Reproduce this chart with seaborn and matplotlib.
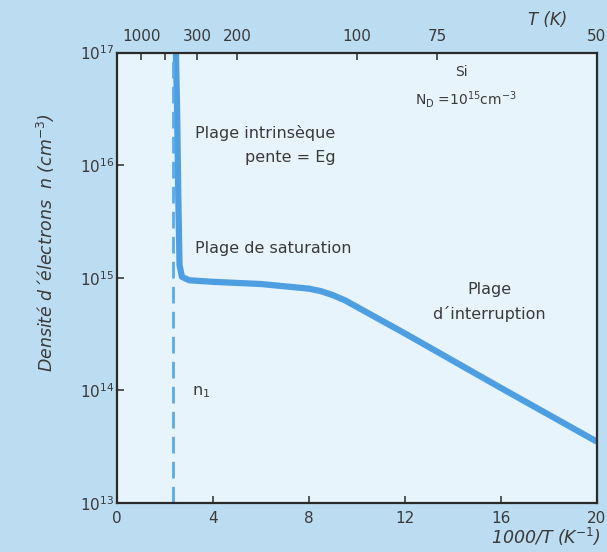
import numpy as np
import pandas as pd
import seaborn as sns
import matplotlib.pyplot as plt
from matplotlib.ticker import FixedLocator, FixedFormatter, LogLocator

# curve n(1000/T)
inv_t = [2.45, 2.5, 2.55, 2.6, 2.7, 3.0, 4.0, 6.0, 8.0, 8.5, 9.0, 9.5, 12.0, 16.0, 20.0]
n_e = [1e17, 3e16, 5e15, 1.3e15, 1.02e15, 9.5e14, 9.2e14, 8.8e14, 8.0e14, 7.6e14, 7.0e14, 6.3e14, 3.2e14, 1.05e14, 3.5e13]

# intrinsic density n1 marker (dashed)
n1_x = 2.33

# top axis: temperatures
t_vals = [1000, 500, 300, 200, 100, 75, 50]
t_labels = ["1000", "", "300", "200", "100", "75", "50"]

df = pd.DataFrame({"x": inv_t, "n": n_e})

sns.set_theme(style="ticks")
plt.rcParams['font.family'] = ['DejaVu Sans']

txt = "#3a3a3a"
line_col = "#4d9fe2"

fig = plt.figure(figsize=(6.07, 5.52), dpi=100, facecolor="#bcdcf1")
ax = fig.add_axes([0.193, 0.0888, 0.7905, 0.816])
ax.set_facecolor("#e8f4fc")

sns.lineplot(data=df, x="x", y="n", ax=ax, color=line_col, linewidth=4.5,
             sort=False, solid_capstyle="butt")
ax.axvline(n1_x, color="#5aaae8", linewidth=2, linestyle=(0, (6, 3)))

ax.set_yscale("log")
ax.set_xlim(0, 20)
ax.set_ylim(1e13, 1e17)
ax.set_xlabel("")
ax.set_ylabel("")

ax.xaxis.set_major_locator(FixedLocator([0, 4, 8, 12, 16, 20]))
ax.yaxis.set_major_locator(LogLocator(base=10, numticks=10))
ax.yaxis.set_minor_locator(FixedLocator([]))
ax.tick_params(axis="both", direction="in", colors=txt, labelcolor=txt,
               labelsize=11, length=5, width=1.2, pad=2)
ax.tick_params(axis="x", pad=6)
for s in ax.spines.values():
    s.set_color("#2a2a2a")
    s.set_linewidth(1.6)

# top temperature scale
top = ax.secondary_xaxis("top", functions=(lambda v: v, lambda v: v))
top.xaxis.set_major_locator(FixedLocator([1000 / t for t in t_vals]))
top.xaxis.set_major_formatter(FixedFormatter(t_labels))
top.tick_params(direction="in", colors=txt, labelcolor=txt, labelsize=11,
                length=5, width=1.2, pad=6)

fig.text(0.87, 0.955, "T (K)", style="italic", color=txt, fontsize=12)
fig.text(0.075, 0.56, "Densité d´électrons  n (cm$^{-3}$)", style="italic",
         color=txt, fontsize=12.5, rotation=90, ha="center", va="center")
fig.text(0.99, 0.015, "1000/T (K$^{-1}$)", style="italic", color=txt,
         fontsize=12.5, ha="right")

ax.text(3.25, 10**16.29, "Plage intrinsèque", color=txt, fontsize=11.5, va="center")
ax.text(7.2, 10**16.07, "pente = Eg", color=txt, fontsize=11.5, va="center", ha="center")
ax.text(3.25, 10**15.26, "Plage de saturation", color=txt, fontsize=11.5, va="center")
ax.text(15.5, 10**14.9, "Plage", color=txt, fontsize=11.5, va="center", ha="center")
ax.text(15.5, 10**14.68, "d´interruption", color=txt, fontsize=11.5, va="center", ha="center")
ax.text(3.1, 10**13.98, "n$_1$", color=txt, fontsize=11.5, va="center")
ax.text(14.1, 10**16.83, "Si", color=txt, fontsize=10, va="center")
ax.text(12.4, 10**16.58, r"N$_\mathrm{D}$ =10$^{15}$cm$^{-3}$", color=txt, fontsize=10, va="center")

fig.savefig("out.png", dpi=100, facecolor=fig.get_facecolor())
